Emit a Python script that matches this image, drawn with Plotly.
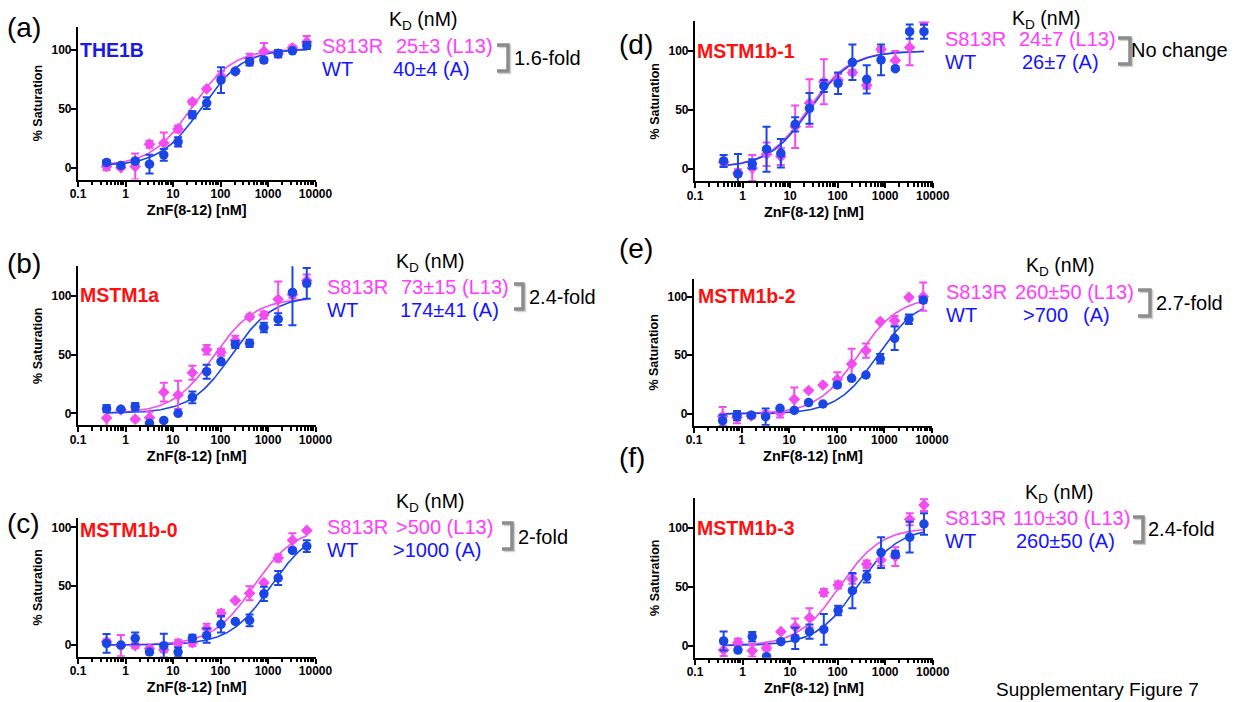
import numpy as np
import plotly.graph_objects as go

W, H = 1241, 702
OFF = 8  # the page body has an 8px default margin
FW, FH = W - OFF, H - OFF

# ---------------- data ----------------
conc = [0.4, 0.8, 1.6, 3.2, 6.4, 12.8, 25.6, 51.2, 102.4, 204.8, 409.6, 819.2, 1638.4, 3276.8, 6553.6]

a_mut = [1, 0, 1, 20, 21, 33, 56, 67, 78, 82, 93, 99, 97, 102, 107]
a_mut_err = [3, 1, 11, 3, 9, 3, 2, 1, 4, 2, 4, 7, 3, 2, 5]
a_wt = [4.5, 2, 5.7, 3, 11, 22, 45, 55, 74.5, 82, 90, 91.5, 97, 99.4, 104]
a_wt_err = [2, 1, 2, 8, 5, 4, 3, 5, 11, 1, 3, 2, 3, 1, 3]

b_mut = [-4, 3, -5, -3.7, 18, 15.6, 34.5, 54, 52, 62, 82, 83.6, 97, 101, 113]
b_mut_err = [7, 2, 1, 5, 8, 12, 6, 4, 3, 4, 2, 3, 15, 3, 5]
b_wt = [4, 3.4, 5.7, -8.5, -6, 0, 13.6, 35.4, 44, 58.6, 59.5, 73, 80, 102.8, 110.5]
b_wt_err = [3, 1, 3, 1, 1, 1, 5, 6, 1, 3, 3, 4, 5, 28, 13]

c_mut = [3, -0.5, -0.5, -3, -4, 1.5, 2, 14, 27, 37.8, 44, 53, 74, 89, 97.4]
c_mut_err = [2, 9, 2, 2, 2, 3, 3, 4, 3, 1, 6, 1, 3, 6, 1]
c_wt = [1.4, 0, 5.7, -6, -0.5, -6, 5.7, 8, 17.6, 20, 21, 43.5, 57, 80.4, 84]
c_wt_err = [8, 1, 5, 1, 10, 4, 3, 6, 7, 1, 5, 6, 6, 1, 5]

d_mut = [6, -3, 1, 12.7, 10.7, 36, 56, 74, 75.5, 81.7, 71, 101.4, 92, 103, 125]
d_mut_err = [3, 3, 11, 10, 7, 18, 20, 19, 5, 2, 3, 2, 8, 15, 3]
d_wt = [7, -4, 4.5, 17, 13.5, 38, 51.5, 70.4, 72.7, 90.4, 76, 92.4, 85, 116.3, 116.3]
d_wt_err = [5, 17, 4, 19, 12, 6, 13, 5, 9, 15, 12, 13, 1, 6, 6]

e_mut = [-2, -3, -1.7, 0, 1, 12.5, 20, 24.7, 29.5, 42.6, 54, 78.7, 79.5, 99.4, 100]
e_mut_err = [8, 5, 2, 2, 4, 10, 1, 1, 6, 13, 6, 1, 4, 1, 12]
e_wt = [-5.7, -1.4, -1, -2.3, 4.8, 3, 9.7, 8.5, 24.7, 30.4, 33.2, 47, 64.5, 80.7, 97]
e_wt_err = [5, 4, 2, 7, 1, 1, 1, 1, 2, 1, 1, 4, 10, 4, 2]

f_mut = [-3.7, 2.8, -4.2, -2, 11.9, 16, 23.7, 45, 51.4, 56.5, 69, 72.6, 75.4, 107, 119]
f_mut_err = [5, 3, 5, 2, 1, 7, 8, 3, 3, 4, 3, 5, 8, 5, 5]
f_wt = [4, -3.7, 7.6, -9.3, 3.4, 6.2, 11.9, 13.8, 29.7, 46.6, 58.5, 78.8, 77.4, 91.8, 103]
f_wt_err = [8, 1, 4, 1, 1, 9, 6, 13, 4, 15, 5, 13, 3, 13, 9]

# fitted binding-curve parameters (KD, bottom, top) per panel
kd_mut = [25, 73, 500, 24, 280, 110]
kd_wt = [40, 174, 1150, 26, 730, 260]
fit_bottom = [1.5, 0, 0, 1.5, 0, 0]
fit_top_mut = [101, 98, 100, 100, 100, 100]
fit_top_wt = [101, 100, 100, 100, 100, 100]

panel_letters = ["(a)", "(b)", "(c)", "(d)", "(e)", "(f)"]
panel_names = ["THE1B", "MSTM1a", "MSTM1b-0", "MSTM1b-1", "MSTM1b-2", "MSTM1b-3"]
mut_kd_text = ["25±3 (L13)", "73±15 (L13)", ">500 (L13)", "24±7 (L13)", "260±50 (L13)", "110±30 (L13)"]
wt_kd_text = ["40±4 (A)", "174±41 (A)", ">1000 (A)", "26±7 (A)", None, "260±50 (A)"]
fold_text = ["1.6-fold", "2.4-fold", "2-fold", "No change", "2.7-fold", "2.4-fold"]
y_max = [120, 125, 108, 125, 115, 125]

mut_vals = [a_mut, b_mut, c_mut, d_mut, e_mut, f_mut]
mut_errs = [a_mut_err, b_mut_err, c_mut_err, d_mut_err, e_mut_err, f_mut_err]
wt_vals = [a_wt, b_wt, c_wt, d_wt, e_wt, f_wt]
wt_errs = [a_wt_err, b_wt_err, c_wt_err, d_wt_err, e_wt_err, f_wt_err]

# ---------------- layout geometry (page pixels) ----------------
boxes = [
    (78, 315.5, 26.6, 179.5),
    (78, 315.5, 266.3, 425.1),
    (78, 315.5, 518.0, 656.8),
    (695, 932.7, 21.4, 181.1),
    (694, 932, 279.0, 425.7),
    (695, 932.7, 498.0, 657.5),
]

MAG_PT = "#F24CF0"
MAG_TXT = "#FF3CFF"
BLUE_PT = "#1A46E6"
BLUE_TXT = "#1414FF"
FONT = "Liberation Sans, Arial, sans-serif"


def px(x, y):
    return (x - OFF) / FW, 1 - (y - OFF) / FH


fig = go.Figure()

minor_vals = [m * 10.0 ** k for k in range(-1, 4) for m in range(2, 10)]

for i in range(6):
    n = "" if i == 0 else str(i + 1)
    xa, ya = "x" + n, "y" + n
    xs = np.logspace(np.log10(conc[0]), np.log10(conc[-1]), 300)
    b = fit_bottom[i]
    ym = b + (fit_top_mut[i] - b) * xs / (kd_mut[i] + xs)
    yw = b + (fit_top_wt[i] - b) * xs / (kd_wt[i] + xs)
    fig.add_trace(go.Scatter(x=xs, y=ym, mode="lines", line=dict(color=MAG_PT, width=1.6),
                             xaxis=xa, yaxis=ya, hoverinfo="skip"))
    fig.add_trace(go.Scatter(x=xs, y=yw, mode="lines", line=dict(color=BLUE_PT, width=1.6),
                             xaxis=xa, yaxis=ya, hoverinfo="skip"))
    fig.add_trace(go.Scatter(x=conc, y=mut_vals[i], mode="markers",
                             marker=dict(symbol="diamond", size=9, color=MAG_PT),
                             error_y=dict(type="data", array=mut_errs[i], color=MAG_PT,
                                          thickness=2, width=4),
                             xaxis=xa, yaxis=ya))
    fig.add_trace(go.Scatter(x=conc, y=wt_vals[i], mode="markers",
                             marker=dict(symbol="circle", size=9.5, color=BLUE_PT),
                             error_y=dict(type="data", array=wt_errs[i], color=BLUE_PT,
                                          thickness=2, width=4),
                             xaxis=xa, yaxis=ya))

    x0, x1, y0, y1 = boxes[i]
    dx0, dy1 = px(x0, y1)
    dx1, dy0 = px(x1, y0)
    fig.layout["xaxis" + n] = dict(
        domain=[dx0, dx1], anchor=ya, type="log", range=[-1, 4],
        tickvals=[0.1, 1, 10, 100, 1000, 10000],
        ticktext=["0.1", "1", "10", "100", "1000", "10000"],
        showline=True, linecolor="black", linewidth=2.2,
        ticks="outside", ticklen=5, tickwidth=2, tickcolor="black",
        ticklabelstandoff=-3,
        minor=dict(tickvals=minor_vals, ticks="outside", ticklen=3.5, tickwidth=1.6,
                   tickcolor="black", showgrid=False),
        showgrid=False, zeroline=False, automargin=False,
        tickfont=dict(family=FONT, size=12, color="black", weight="bold"),
        title=dict(text="ZnF(8-12) [nM]", standoff=5,
                   font=dict(family=FONT, size=14.5, color="black", weight="bold")),
    )
    fig.layout["yaxis" + n] = dict(
        domain=[dy1, dy0], anchor=xa, range=[-10, y_max[i]],
        tickvals=[0, 50, 100],
        showline=True, linecolor="black", linewidth=2.2,
        ticks="outside", ticklen=5, tickwidth=2, tickcolor="black",
        ticklabelstandoff=-3,
        showgrid=False, zeroline=False, automargin=False,
        tickfont=dict(family=FONT, size=12, color="black", weight="bold"),
        title=dict(text="% Saturation", standoff=6,
                   font=dict(family=FONT, size=12.5, color="black", weight="bold")),
    )

# ---------------- text annotations ----------------
ann = []
shapes = []


def text(x, y, s, color="black", size=20, bold=False):
    ax, ay = px(x, y)
    ann.append(dict(x=ax, y=ay, xref="paper", yref="paper", text=s, showarrow=False,
                    xanchor="left", yanchor="middle", borderpad=0,
                    font=dict(family=FONT, size=size, color=color,
                              weight="bold" if bold else "normal")))


letter_pos = [(6, 27), (6, 263), (6, 523), (618, 44), (618, 248), (618, 457)]
name_pos = [(79, 50), (79, 295), (79, 530), (696, 51), (697, 296), (696, 528)]
name_col = ["#1A1AE6", "#FF1010", "#FF1010", "#FF1010", "#FF1010", "#FF1010"]
kd_pos = [(388, 21), (395, 262), (395, 502), (1011, 20), (1025, 266), (1024, 493)]
mut_row = [(321, 46, 395), (326, 287, 400), (326, 527, 395), (944, 39, 1018), (945, 292, 1014), (944, 518, 1012)]
wt_row = [(321, 69, 392), (326, 310, 399), (326, 550, 392), (944, 62, 1021), (945, 315, 1022), (944, 541, 1015)]
brackets = [(497, 508, 45, 71), (514, 523, 284, 309), (502, 512, 523, 549),
            (1118, 1130, 38, 64), (1138, 1150, 290, 316), (1133, 1143, 517, 542)]
fold_pos = [(513, 58), (528, 297), (517, 537), (1130, 50), (1155, 303), (1147, 529)]

for i in range(6):
    text(*letter_pos[i], panel_letters[i], size=28)
    text(*name_pos[i], panel_names[i], color=name_col[i], size=19.5, bold=True)
    text(*kd_pos[i], "K<sub>D</sub> (nM)", size=19.5)
    mx, my, mvx = mut_row[i]
    text(mx, my, "S813R", color=MAG_TXT)
    text(mvx, my, mut_kd_text[i], color=MAG_TXT)
    wx, wy, wvx = wt_row[i]
    text(wx, wy, "WT", color=BLUE_TXT)
    if wt_kd_text[i] is not None:
        text(wvx, wy, wt_kd_text[i], color=BLUE_TXT)
    else:
        text(1022, wy, ">700", color=BLUE_TXT)
        text(1082, wy, "(A)", color=BLUE_TXT)
    text(*fold_pos[i], fold_text[i])
    bx0, bx1, by0, by1 = brackets[i]
    for dx, dy, col in [(1.5, 1.5, "rgba(0,0,0,0.18)"), (0, 0, "#8C8C8C")]:
        p0 = px(bx0 + dx, by0 + dy)
        p1 = px(bx1 + dx, by0 + dy)
        p2 = px(bx1 + dx, by1 + dy)
        p3 = px(bx0 + dx, by1 + dy)
        shapes.append(dict(type="path", xref="paper", yref="paper",
                           path=f"M {p0[0]},{p0[1]} L {p1[0]},{p1[1]} L {p2[0]},{p2[1]} L {p3[0]},{p3[1]}",
                           line=dict(color=col, width=3.5)))

text(995, 689, "Supplementary Figure 7", size=19)

fig.update_layout(
    width=FW, height=FH, margin=dict(l=0, r=0, t=0, b=0),
    paper_bgcolor="white", plot_bgcolor="white", showlegend=False,
    annotations=ann, shapes=shapes,
    font=dict(family=FONT, color="black"),
)

fig.write_html("out.html")
